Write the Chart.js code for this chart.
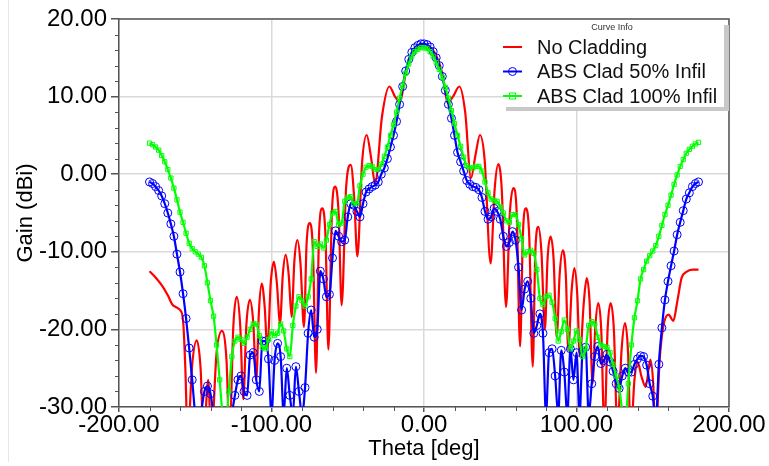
<!DOCTYPE html>
<html>
<head>
<meta charset="utf-8">
<script src="https://cdn.jsdelivr.net/npm/chart.js@4.4.0/dist/chart.umd.min.js"></script>
<style>
html,body{margin:0;padding:0;background:#fff;overflow:hidden}
canvas{display:block}
</style>
</head>
<body>
<canvas id="c" width="769" height="466"></canvas>
<script>
const seriesNames=['No Cladding','ABS Clad 50% Infil','ABS Clad 100% Infil'];
const seriesColors=['#ff0000','#0000ff','#00ff00'];
const xTicks=[-200,-100,0,100,200];
const yTicks=[-30,-20,-10,0,10,20];

// No Cladding: lobe peaks / nulls
const redTheta=[-180,-176,-172,-168,-165,-162,-160,-158,-156.5,-155,-152,-149,-146.5,-144.5,-141.5,-139.5,-136,-132.5,-129.5,-127.5,
  -125,-122.8,-120.5,-118.5,-116.5,-114.2,-112,-110,-108.2,-106.4,-104.5,-102.7,-100.5,-98.4,-96.5,-94.4,-92.6,-90.7,-88.7,-86.8,
  -85,-83,-81,-78.7,-77,-74.8,-72.8,-70.8,-68.8,-66.7,-64.6,-62.7,-60.3,-58.2,-56,-54,-51,-48,-45.8,-43.7,
  -40.6,-37.6,-34.6,-32.1,-27.5,-22.7,-19,-15.7,-12,-8,-4,0,4,8,12,15.5,19,23.2,27,30.8,
  33.8,36.7,39.7,43.7,46.3,48.7,51,53.8,56.3,58.6,60.8,63,64.9,66.9,69,71.3,73,75,77,79.3,
  81,83,85,87,89,91,93,94.6,96.8,98.6,100.5,102.2,104.8,106.7,108.6,110.5,112.4,114.3,116.2,118.3,
  120.4,122.4,124.5,126.8,129.6,131.8,133.8,135.5,138,140.2,142.5,145.4,148.4,150.3,151.8,154.5,157,160.4,163.5,166,
  169,172,176,180];
const redGain=[-12.5,-13.3,-14.3,-15.6,-16.8,-17.2,-17.5,-18.8,-25,-34,-24.5,-21.4,-25,-34,-26.5,-34,-23,-20.2,-24,-34,
  -19.5,-15.8,-19.5,-29,-19.5,-16.2,-19,-26.5,-17.5,-14.1,-17,-22.6,-14,-11.3,-14,-19.2,-13,-10.4,-13,-18.4,
  -11.2,-8.5,-11.5,-19.7,-9,-6.3,-10,-25.6,-7.5,-4.4,-8,-22.6,-4.5,-1.6,-5,-16.9,-1.5,1.2,-3,-10.6,
  1.5,5.05,2,-1.2,7.5,11.3,10,9.3,13,15.3,16.3,16.6,16.3,15.3,13,9.2,10,11.3,8,-0.5,
  2.5,5.05,2,-11.5,-2,1.3,-2,-17.1,-5,-1.8,-5,-22.2,-7.5,-4.4,-8,-24.8,-10,-6.8,-10,-20,
  -11,-8.05,-11,-21,-12.8,-9.8,-13,-22.7,-15,-12.1,-15.5,-23.5,-16.5,-13.4,-16.5,-27,-19.5,-16.6,-20,-33,
  -20,-16.6,-20,-33,-22.5,-19.2,-23,-34,-26.5,-24.2,-26,-27.4,-23.9,-27,-34,-24,-19.5,-18.1,-18.9,-16.5,
  -13.3,-12.6,-12.3,-12.3];

// the two clad curves are sampled every 2 deg
const cladTheta=[-180,-178,-176,-174,-172,-170,-168,-166,-164,-162,-160,-158,-156,-154,-152,-150,-148,-146,-144,-142,
  -140,-138,-136,-134,-132,-130,-128,-126,-124,-122,-120,-118,-116,-114,-112,-110,-108,-106,-104,-102,
  -100,-98,-96,-94,-92,-90,-88,-86,-84,-82,-80,-78,-76,-74,-72,-70,-68,-66,-64,-62,
  -60,-58,-56,-54,-52,-50,-48,-46,-44,-42,-40,-38,-36,-34,-32,-30,-28,-26,-24,-22,
  -20,-18,-16,-14,-12,-10,-8,-6,-4,-2,0,2,4,6,8,10,12,14,16,18,
  20,22,24,26,28,30,32,34,36,38,40,42,44,46,48,50,52,54,56,58,
  60,62,64,66,68,70,72,74,76,78,80,82,84,86,88,90,92,94,96,98,
  100,102,104,106,108,110,112,114,116,118,120,122,124,126,128,130,132,134,136,138,
  140,142,144,146,148,150,152,154,156,158,160,162,164,166,168,170,172,174,176,178,180];
const clad50Gain=[-1.0,-1.2,-1.6,-2.1,-2.8,-3.8,-5.0,-6.4,-8.0,-10.3,
  -12.6,-15.4,-18.6,-22.4,-26.5,-31.0,-33.0,-30.5,-28.0,-27.3,
  -28.3,-31.0,-34.0,-33.0,-31.0,-32.0,-34.0,-31.0,-28.5,-26.5,
  -26.0,-28.0,-28.5,-23.3,-23.0,-26.5,-28.0,-21.5,-21.5,-23.8,
  -31.0,-24.0,-21.8,-23.5,-31.0,-25.0,-28.5,-31.0,-24.8,-28.0,
  -31.0,-27.5,-20.5,-17.5,-21.0,-20.0,-12.5,-13.5,-15.8,-15.5,
  -10.8,-7.3,-8.0,-8.7,-8.5,-5.5,-3.8,-4.0,-4.8,-5.5,
  -3.8,-2.3,-1.9,-1.6,-1.4,-1.0,0.0,0.8,2.0,3.5,
  5.0,6.8,9.0,11.3,13.3,14.8,15.7,16.3,16.6,16.8,
  16.8,16.7,16.4,15.8,15.0,14.0,12.6,10.8,9.0,7.2,
  5.0,2.8,1.6,0.4,-0.8,-1.3,-1.6,-1.7,-2.0,-3.0,
  -4.8,-5.8,-5.5,-4.4,-4.8,-5.8,-8.0,-9.3,-8.8,-7.4,
  -8.5,-12.0,-17.5,-14.8,-13.8,-16.0,-20.5,-19.5,-18.0,-20.5,
  -31.0,-23.0,-22.5,-26.0,-31.0,-22.7,-25.5,-31.0,-22.5,-26.5,
  -23.0,-31.0,-22.8,-22.3,-31.0,-27.0,-23.5,-22.2,-24.4,-24.0,
  -23.2,-24.2,-25.4,-27.0,-27.6,-26.0,-25.0,-25.5,-25.5,-24.5,
  -23.8,-23.4,-23.5,-24.6,-27.0,-28.6,-32.0,-24.5,-19.8,-16.2,
  -13.8,-11.8,-9.9,-7.8,-6.2,-4.7,-3.2,-2.4,-1.6,-1.2,
  -1.0];
const clad100Gain=[4.0,3.8,3.5,3.1,2.4,1.6,0.6,-0.5,-1.8,-3.3,
  -4.9,-6.2,-7.6,-8.9,-9.6,-10.0,-10.3,-10.7,-11.8,-14.0,
  -16.3,-18.3,-22.0,-26.5,-31.0,-32.0,-28.0,-23.5,-21.5,-21.0,
  -21.3,-21.8,-21.0,-20.0,-19.3,-19.3,-20.8,-22.3,-22.5,-21.3,
  -20.3,-20.8,-20.5,-19.3,-20.2,-22.5,-23.5,-19.5,-17.0,-15.8,
  -16.3,-17.0,-15.8,-13.5,-8.7,-9.3,-9.0,-9.5,-8.5,-6.5,
  -5.0,-4.8,-6.5,-6.3,-3.5,-3.0,-2.9,-3.8,-3.8,-1.5,
  0.0,0.9,1.1,1.0,0.6,0.6,1.3,2.3,3.5,5.0,
  6.4,8.0,9.8,11.4,13.0,14.2,15.2,15.8,16.1,16.3,
  16.3,16.2,15.8,15.2,14.4,13.5,12.5,11.2,9.8,8.2,
  6.5,5.0,3.6,2.2,1.1,0.8,0.8,1.0,1.0,0.4,
  -1.0,-2.4,-3.2,-3.4,-3.5,-4.2,-5.0,-6.0,-6.2,-5.2,
  -5.2,-6.5,-8.3,-10.4,-10.0,-9.8,-10.2,-12.3,-16.0,-16.8,
  -15.8,-15.6,-16.5,-18.6,-21.5,-20.3,-18.8,-20.0,-22.5,-21.5,
  -20.2,-21.3,-23.5,-22.5,-19.5,-19.0,-19.3,-21.0,-22.0,-22.2,
  -22.3,-23.0,-24.5,-26.0,-27.5,-30.5,-32.0,-27.0,-22.0,-18.5,
  -16.3,-13.5,-12.3,-11.2,-10.5,-9.9,-9.2,-8.0,-6.6,-5.2,
  -4.0,-2.7,-1.3,-0.1,1.0,1.9,2.7,3.2,3.6,3.9,
  4.1];

const FONT='"Liberation Sans", Arial, sans-serif';
Chart.defaults.font.family=FONT;
Chart.defaults.color='#000';

function pts(xs,ys){return xs.map((x,i)=>({x,y:ys[i]}))}

function drawLegend(chart){
  const ctx=chart.ctx,a=chart.chartArea;
  const x0=503,y0=a.top,x1=a.right-5,y1=107;
  ctx.fillStyle='#c8c8c8';
  ctx.fillRect(x1,y0+6,5,y1-y0-2);
  ctx.fillRect(x0+3,y1,x1-x0+2,4);
  ctx.fillStyle='#fff';
  ctx.fillRect(x0,y0+1,x1-x0,y1-y0-1);
  ctx.fillStyle='#333';ctx.font='9px '+FONT;ctx.textAlign='center';ctx.textBaseline='middle';
  ctx.fillText('Curve Info',612,28);
  ctx.font='20px '+FONT;ctx.textAlign='left';
  chart.data.datasets.forEach((ds,i)=>{
    const cy=47+i*24.5;
    ctx.strokeStyle=ds.borderColor;ctx.lineWidth=2;
    ctx.beginPath();ctx.moveTo(503,cy);ctx.lineTo(522,cy);ctx.stroke();
    ctx.lineWidth=1;
    if(ds.pointStyle==='circle'){ctx.beginPath();ctx.arc(512.5,cy,4,0,Math.PI*2);ctx.stroke()}
    else if(ds.pointStyle==='rect'){ctx.strokeRect(509.5,cy-3,6,6)}
    ctx.fillStyle='#111';
    ctx.fillText(ds.label,537,cy+1);
  });
}

const framePlugin={id:'frame',
  beforeDraw(chart){
    const c=chart.ctx;c.save();
    c.fillStyle='#fff';c.fillRect(0,0,chart.width,chart.height);
    c.strokeStyle='#e6e6e6';c.lineWidth=1;
    c.beginPath();c.moveTo(8.5,0);c.lineTo(8.5,462);c.stroke();
    c.restore();
  },
  afterDraw(chart){
    const {ctx,chartArea:a,scales:{x,y}}=chart;
    ctx.save();
    ctx.strokeStyle='#555';ctx.lineWidth=1.5;
    ctx.beginPath();ctx.moveTo(a.left,a.top);ctx.lineTo(a.right,a.top);ctx.lineTo(a.right,a.bottom);ctx.stroke();
    // minor ticks
    ctx.lineWidth=1;ctx.beginPath();
    for(let v=y.min;v<=y.max;v+=2){if(v%10===0)continue;const py=Math.round(y.getPixelForValue(v))+0.5;ctx.moveTo(a.left-4,py);ctx.lineTo(a.left,py)}
    for(let v=x.min;v<=x.max;v+=20){if(v%100===0)continue;const px=Math.round(x.getPixelForValue(v))+0.5;ctx.moveTo(px,a.bottom);ctx.lineTo(px,a.bottom+4)}
    ctx.stroke();
    drawLegend(chart);
    ctx.restore();
  }};

const common={borderWidth:2.2,cubicInterpolationMode:'monotone',clip:0,pointBorderWidth:1,pointBackgroundColor:'rgba(0,0,0,0)',pointHoverRadius:0};

new Chart(document.getElementById('c'),{
  type:'line',
  data:{datasets:[
    Object.assign({},common,{label:seriesNames[0],data:pts(redTheta,redGain),borderColor:seriesColors[0],pointRadius:0,pointStyle:false,order:3}),
    Object.assign({},common,{label:seriesNames[1],data:pts(cladTheta,clad50Gain),borderColor:seriesColors[1],pointBorderColor:seriesColors[1],pointStyle:'circle',pointRadius:4,order:2}),
    Object.assign({},common,{label:seriesNames[2],data:pts(cladTheta,clad100Gain),borderColor:seriesColors[2],pointBorderColor:seriesColors[2],pointStyle:'rect',pointRadius:3,order:1})
  ]},
  options:{
    responsive:false,animation:false,
    layout:{padding:{top:19,right:40,left:0,bottom:0}},
    plugins:{legend:{display:false},tooltip:{enabled:false}},
    scales:{
      x:{type:'linear',min:xTicks[0],max:xTicks[xTicks.length-1],
        afterBuildTicks:s=>{s.ticks=xTicks.map(v=>({value:v}))},
        afterFit:s=>{s.height=59},
        grid:{color:'#d9d9d9',lineWidth:1.5,tickLength:5,tickColor:'#555'},
        border:{color:'#555',width:1.5},
        ticks:{padding:1,font:{size:24,lineHeight:1},color:'#000',maxRotation:0,callback:v=>v.toFixed(2)},
        title:{display:true,text:'Theta [deg]',font:{size:22},color:'#000',padding:{top:0,bottom:4}}},
      y:{type:'linear',min:yTicks[0],max:yTicks[yTicks.length-1],
        afterBuildTicks:s=>{s.ticks=yTicks.map(v=>({value:v}))},
        afterFit:s=>{s.width=119},
        grid:{color:'#d9d9d9',lineWidth:1.5,tickLength:8,tickColor:'#555'},
        border:{color:'#555',width:1.5},
        ticks:{padding:4,font:{size:24},color:'#000',callback:v=>v.toFixed(2)},
        title:{display:true,text:'Gain (dBi)',font:{size:22},color:'#000',padding:{top:13,bottom:0}}}
    }
  },
  plugins:[framePlugin]
});
</script>
</body>
</html>
